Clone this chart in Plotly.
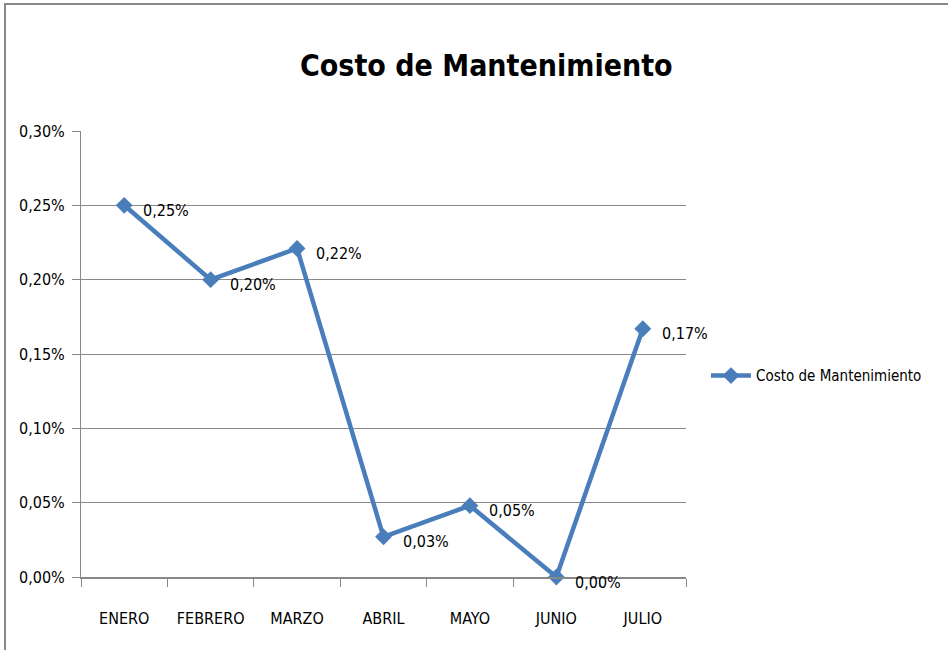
import plotly.graph_objects as go

months = ["ENERO", "FEBRERO", "MARZO", "ABRIL", "MAYO", "JUNIO", "JULIO"]
costo = [0.0025, 0.0020, 0.00221, 0.00027, 0.00048, 0.0000, 0.00167]
tick_vals = [0, 0.0005, 0.0010, 0.0015, 0.0020, 0.0025, 0.0030]

labels = [f"{v*100:.2f}%".replace(".", ",") for v in costo]
FONT = "DejaVu Sans Condensed, Liberation Sans Narrow, sans-serif"

fig = go.Figure()
fig.add_trace(go.Scatter(
    x=months, y=costo, mode="lines+markers",
    name="Costo de Mantenimiento",
    line=dict(color="#4A7EBB", width=4.5),
    marker=dict(symbol="diamond", size=13, color="#4A7EBB"),
    cliponaxis=False,
))

annotations = [dict(x=m, y=v, xref="x", yref="y", text=t, showarrow=False,
                    xanchor="left", yanchor="middle", xshift=17, yshift=-5,
                    font=dict(family=FONT, size=16, color="#000000"))
               for m, v, t in zip(months, costo, labels)]

fig.update_layout(
    width=948, height=650,
    paper_bgcolor="white", plot_bgcolor="white",
    separators=",.",
    margin=dict(l=81, r=262, t=131, b=73, autoexpand=False),
    title=dict(text="<b>Costo de Mantenimiento</b>", x=0.513, xanchor="center",
               xref="container", y=0.9, yanchor="middle",
               font=dict(family=FONT, size=30, color="#000000")),
    font=dict(family=FONT, size=16, color="#000000"),
    showlegend=True,
    legend=dict(x=1.033, y=0.451, xanchor="left", yanchor="middle",
                font=dict(family=FONT, size=15, color="#000000"),
                bgcolor="rgba(0,0,0,0)", itemwidth=40),
    xaxis=dict(type="category", range=[-0.5, 6.5], tickson="boundaries",
               ticks="outside", ticklen=8, tickcolor="#888888",
               showline=True, linecolor="#888888", linewidth=2,
               showgrid=False, tickfont=dict(family=FONT, size=16),
               tickangle=0, automargin=False,
               ticklabelstandoff=26),
    yaxis=dict(range=[0, 0.0030], tickvals=tick_vals, tickformat=".2%",
               ticks="outside", ticklen=8, tickcolor="#888888",
               showline=True, linecolor="#888888", linewidth=1,
               showgrid=True, gridcolor="#888888", gridwidth=1,
               zeroline=False, automargin=False, ticklabelstandoff=4,
               tickfont=dict(family=FONT, size=16)),
    annotations=annotations,
    shapes=[dict(type="rect", xref="paper", yref="paper",
                 x0=-0.1256, y0=-0.5, x1=1.8, y1=1.2848,
                 line=dict(color="#888888", width=2), layer="below")],
)

fig.write_html("out.html", config={"displayModeBar": False},
               post_script="document.body.style.margin='0px';")
